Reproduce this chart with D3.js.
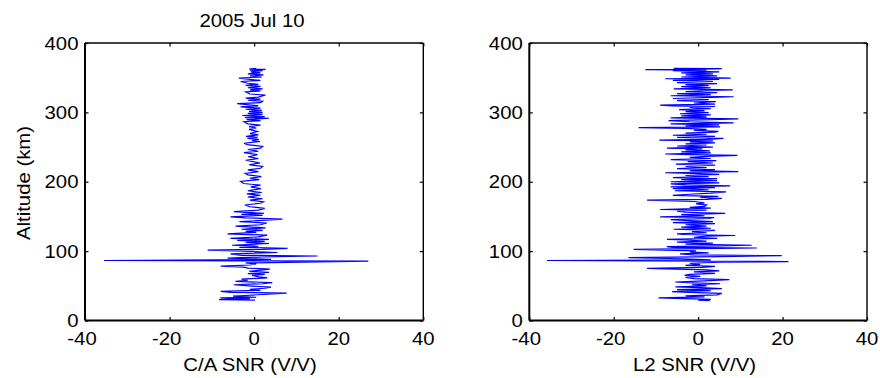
<!DOCTYPE html>
<html>
<head>
<meta charset="utf-8">
<script src="https://cdn.jsdelivr.net/npm/d3@7"></script>
<style>
  html, body { margin: 0; padding: 0; background: #fff; }
  svg { display: block; }
  text { font-family: "Liberation Sans", Arial, sans-serif; fill: #000; }
</style>
</head>
<body>
<svg id="chart" width="880" height="378"></svg>
<script>
// ---------------- data ----------------
const title = "2005 Jul 10";
const yLabel = "Altitude (km)";
const xLabels = ["C/A SNR (V/V)", "L2 SNR (V/V)"];
const xTicks = [-40, -20, 0, 20, 40];
const yTicks = [0, 100, 200, 300, 400];

const caAlt = [29.5,30,31.5,32.5,33.5,35,36,37.5,39.5,40.5,42,43.5,45,46.5,48,49.5,51.5,53,54.5,56.5,58,59.5,61.5,63,65,66.5,67.5,69.5,71,72.5,74,75.5,77,78.5,80,81.5,83,85.5,86.5,88,90,91.5,93,94,96,98,99.5,101.5,102.5,104,105.5,107,108.5,111,112.5,114,115.5,117,118.5,120.5,123,125,127,128.5,130,131.5,133.5,136,138,140.5,142.5,144,146,148,149.5,151.5,153,154.5,157,159,161.5,164,166.5,169,171,173.5,175.5,178,180.5,182.5,184.5,187,190,192.5,195,197.5,200.5,203,205,207.5,210,212,214.5,217,219.5,222,224.5,227,231,233.5,236,239,242,244,246.5,248.5,251,253.5,255.5,258,259.5,261,262.5,264,265.5,267.5,269.5,272.5,275.5,277.5,279.5,281.5,283.5,286.5,288,289.5,291.5,292.5,294,295.5,297,298.5,300,301.5,303,304.5,306,308,309.5,312.5,314,316,317.5,319,320.5,322,325,326.5,329.5,331,332.5,334,335.5,337.5,339,340.5,342,344.5,346,347.5,349.5,351,352.5,354,355.5,357,358.5,360,361,362,362.5,363.5];
const caSnr = [0.2,-8.3,-1,-8,0.5,-5,-2,2,7.7,-5.5,-7.9,1.5,-1,2.5,4.0,-0.5,-4.8,2,4.3,-4.4,-1.5,-3,3.1,1.2,-0.5,2.5,-1.5,3.5,-1.2,1.5,3.7,-1.5,-2.5,-7.9,-1,0.5,-2,27,-35.5,4,-6.3,2,15,-3,-5.6,5.5,-0.5,-11,2,7.9,-3.5,1,-5.2,3.5,-2,2.5,-4,3.5,-5.6,1,3.1,-6.3,0.5,-2,2,-3,2.7,-4.4,1.5,3,-3.5,1,6.7,-2,-5.6,2,-3,2.3,-4.8,1,2.5,-1,-2.2,1.5,2.2,-1,2,-1.5,1.5,-1.7,1.8,-1.5,1.6,-0.8,1.5,-2.5,-3.2,1.2,-1.0,1.7,-1.5,-2.1,1,-1.5,1.5,2.0,-1.2,1.4,-2.0,1.0,-1.4,0.8,-2.4,1.0,-1.5,1.5,2.0,-1.6,-2.4,1.4,-0.5,1.1,-1.6,0.8,-1.9,1.0,-1.0,0.8,-1.2,0.5,-1.2,1.5,-1.5,-2.4,1.5,-1.8,3.5,-2.2,2.5,-2.8,2.0,-1.5,2.0,-1.2,1.8,-2.0,1.5,-3.2,1.0,-4.0,1.5,2.0,-1.5,1.5,-2.0,1.0,2.7,-1.0,-2.0,1.5,-1.0,2.0,-1.5,1.5,-2.0,1.0,-1.5,-3.2,1.5,-1.0,-3.6,1.8,-1.0,2.2,-1.5,1.5,-0.8,2.0,-1.0,2.7,-1.2,0.5];

const l2Alt = [28.5,29.5,30.5,32.5,34,35.5,37,39,40.5,41.5,43,44.5,46,47.5,48.5,50,51.5,53,54.5,55.5,57,59,60.5,62,63.5,65,66.5,68,70,71.5,73,75,76.5,78,79.5,81,82.5,84,85,86.5,87.5,89,90.5,92,93.5,94.5,96,97.5,99,100.5,102.5,103.5,104.5,105.5,106.5,107.5,108.5,110,111.5,113,114.5,116,117,118.5,120,121.5,122.5,124,125,126.5,128,130,131.5,133,134.5,136,138,139.5,141,142.5,144,145.5,147,148.5,149.5,151,152.5,154.5,156,157.5,159,160,162,163,164.5,166.5,168,169.5,171.5,173.5,174.5,176,177.5,179,180.5,182,183.5,185.5,187,188.5,190,191.5,192.5,194,195.5,197,198.5,200,201.5,203,204.5,206,207.5,209,210.5,212,213,214.5,216,217.5,219,220.5,222,224,225.5,227,229,230.5,232,233.5,235,236.5,238,239,240,241.5,243,244.5,246,247.5,248.5,250,251.5,253,254.5,256,257.5,259,260,261,262.5,264,265.5,267,268.5,270,271.5,272.5,274,275.5,277,278,279,280.5,282,283.5,285,286.5,288,289.5,290.5,292,293.5,295,296.5,298,299.5,301,302.5,304,305.5,307,308.5,309.5,310.5,312,313.5,315.5,317,318.5,320,321.5,322.5,324,325.5,327,328.5,330,331.5,332.5,334,335.5,337,338.5,340,341.5,343,344.5,346,347.5,348.5,349.5,351,352.5,354,355.5,357,358.5,360,361,361.5,362.5,363,363.5];
const l2Snr = [2.8,0,3,-9.4,1.5,-3,4.5,5.6,-2,-6.2,3,-5,5.6,0.5,-5.4,2,-1.5,5.2,-2.5,-5.4,1.5,7.4,-1,-3,0.5,-3.2,-2,4,-1,5,2,-12.1,1,4,-3,0.5,-2,5,21.4,-35.8,3,-4,-16.5,5,19.8,-1,-4.3,2.5,-2,-0.5,-15.3,1,13.9,-6,-7.4,5,12.7,-3,3.5,-5,2,-3,-7.4,4.5,-1,2,8.8,-3.5,-5,2,-1.5,4,-5.8,3,-4,2,-3,4,-6,3.5,-2,-6.5,2.5,3.8,-9,1.5,-4,6.4,-3,-5,2,-9,3,-2,1.5,2,-0.5,1.5,-1,-12.1,2,5.6,0.5,4.8,-6,-2,3,6.6,-5.5,2.5,-6,4,-6.5,7.6,-3,-6.5,5,-6.5,4.5,-4,4.5,-6,2.5,-3,5,-1.5,-7.8,9.5,-2,4,-5,2,-3,4,-5.3,3.5,-2.5,4.3,-6.5,3,-2,2,9.3,-2,-7.8,3,-4,2.8,-3,1,-7.4,3.5,-5,2,-3,4,-2,3.5,-9.2,2,6,-5,4,-6,2,-3,4,4.8,-1,2,-3,-14.1,5.2,-3,5,-6.5,8.4,-2,-7,3,9.5,-6.5,2,-4,3,-4.3,2.5,-3,1.5,-4.5,3,-2,4,-6,-9,4,-1,4.2,-5,2.5,-6,3,8.4,-6.5,3,-5,4.5,-3,2,8.2,-5.8,3,-4,2.5,-3,4.5,-5,3.5,-6,5,-7.8,7.7,-4,4.5,-3,3.5,-4,5,-6,2,-12.5,4.2,5.6,-5.8];

// ---------------- layout ----------------
const svg = d3.select("#chart");
const yTop = 43, yBot = 320.5;
const panels = [
  { x0: 85, x1: 423.3, alt: caAlt, snr: caSnr, xlab: xLabels[0], xlabX: 250, ylabel: true, title: true },
  { x0: 529.3, x1: 867, alt: l2Alt, snr: l2Snr, xlab: xLabels[1], xlabX: 694.5, ylabel: false, title: false }
];
const FS = 18.5, SX = 1.1;

panels.forEach(p => {
  const x = d3.scaleLinear().domain([-40, 40]).range([p.x0, p.x1]);
  const y = d3.scaleLinear().domain([0, 400]).range([yBot, yTop]);
  const g = svg.append("g");

  // data line
  const pts = p.alt.map((a, i) => [p.snr[i], a]);
  g.append("path")
    .datum(pts)
    .attr("fill", "none")
    .attr("stroke", "#0000ff")
    .attr("stroke-width", 1.2)
    .attr("stroke-linejoin", "miter")
    .attr("d", d3.line().x(d => x(d[0])).y(d => y(d[1])));

  // axes (inward ticks, all sides)
  const fmt = d => String(d);
  const styleAxis = sel => {
    sel.select(".domain").remove();
    sel.selectAll(".tick line").attr("stroke", "#000").attr("stroke-width", 1.2);
    sel.selectAll("text").remove();
  };
  g.append("g").attr("transform", `translate(0,${yBot})`)
    .call(d3.axisBottom(x).tickValues(xTicks).tickSizeInner(-3.5).tickSizeOuter(0).tickFormat(fmt))
    .call(styleAxis);
  g.append("g").attr("transform", `translate(0,${yTop})`)
    .call(d3.axisTop(x).tickValues(xTicks).tickSizeInner(-3.5).tickSizeOuter(0).tickFormat(fmt))
    .call(styleAxis);
  g.append("g").attr("transform", `translate(${p.x0},0)`)
    .call(d3.axisLeft(y).tickValues(yTicks).tickSizeInner(-3.5).tickSizeOuter(0).tickFormat(fmt))
    .call(styleAxis);
  g.append("g").attr("transform", `translate(${p.x1},0)`)
    .call(d3.axisRight(y).tickValues(yTicks).tickSizeInner(-3.5).tickSizeOuter(0).tickFormat(fmt))
    .call(styleAxis);

  // box
  g.append("line").attr("x1", p.x0).attr("x2", p.x1).attr("y1", yBot).attr("y2", yBot).attr("stroke", "#000").attr("stroke-width", 2);
  g.append("line").attr("x1", p.x0).attr("x2", p.x0).attr("y1", yTop).attr("y2", yBot).attr("stroke", "#000").attr("stroke-width", 2);
  g.append("line").attr("x1", p.x0).attr("x2", p.x1).attr("y1", yTop).attr("y2", yTop).attr("stroke", "#000").attr("stroke-width", 1.4);
  g.append("line").attr("x1", p.x1).attr("x2", p.x1).attr("y1", yTop).attr("y2", yBot).attr("stroke", "#000").attr("stroke-width", 1.4);

  // tick labels
  xTicks.forEach(v => {
    g.append("text")
      .attr("transform", `translate(${x(v) - (v < 0 ? 3 : 0)},${yBot + 24.5}) scale(${SX},1)`)
      .attr("text-anchor", "middle").attr("font-size", FS).text(fmt(v));
  });
  yTicks.forEach(v => {
    g.append("text")
      .attr("transform", `translate(${p.x0 - 6.5},${y(v) + 6.5}) scale(${SX},1)`)
      .attr("text-anchor", "end").attr("font-size", FS).text(fmt(v));
  });

  // x label
  g.append("text")
    .attr("transform", `translate(${p.xlabX},${371}) scale(${SX},1)`)
    .attr("text-anchor", "middle").attr("font-size", FS).text(p.xlab);

  if (p.ylabel) {
    g.append("text")
      .attr("transform", `translate(29.5,183) rotate(-90) scale(${SX},1)`)
      .attr("text-anchor", "middle").attr("font-size", FS).text(yLabel);
  }
  if (p.title) {
    g.append("text")
      .attr("transform", `translate(252,26.7) scale(${SX},1)`)
      .attr("text-anchor", "middle").attr("font-size", FS).text(title);
  }
});
</script>
</body>
</html>
